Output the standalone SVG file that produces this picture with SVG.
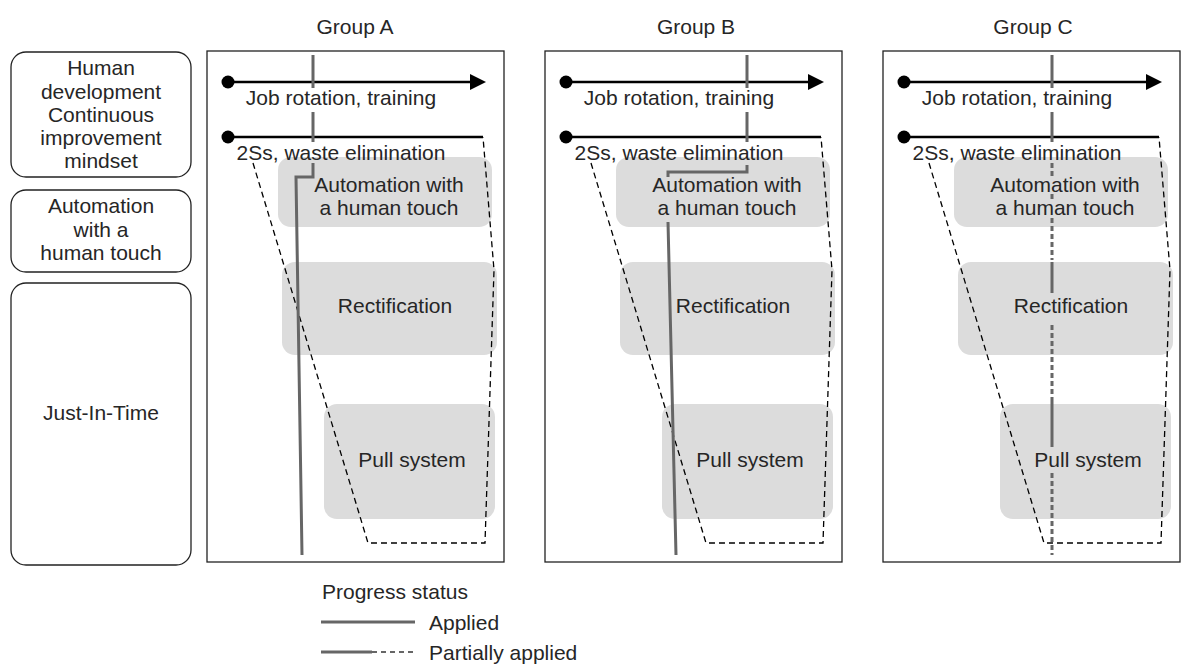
<svg xmlns="http://www.w3.org/2000/svg" width="1186" height="666" viewBox="0 0 1186 666">
<style>
text{font-family:"Liberation Sans",Arial,sans-serif;font-size:21px;fill:#262626}
.c{text-anchor:middle}
.frame{fill:none;stroke:#222;stroke-width:1.3}
.lbox{fill:#fff;stroke:#222;stroke-width:1.3}
.gbox{fill:#dcdcdc}
.axis{stroke:#000;stroke-width:2.5;fill:none}
.trap{fill:none;stroke:#000;stroke-width:1.3;stroke-dasharray:6 4}
.prog{fill:none;stroke:#666;stroke-width:3}
.progd{fill:none;stroke:#666;stroke-width:3;stroke-dasharray:5 3}
</style>
<defs>
<g id="panel">
<rect class="gbox" x="278" y="157" width="214" height="70" rx="13"/>
<rect class="gbox" x="282" y="262" width="215" height="93" rx="13"/>
<rect class="gbox" x="324" y="404" width="171" height="115" rx="13"/>
<line class="axis" x1="228" y1="82" x2="472" y2="82"/>
<polygon points="470,74 486,82 470,90" fill="#000"/>
<circle cx="228" cy="82" r="6.5" fill="#000"/>
<line class="axis" x1="228" y1="137" x2="483" y2="137"/>
<circle cx="228" cy="137" r="6.5" fill="#000"/>
<text class="c" x="341" y="105">Job rotation, training</text>
<text class="c" x="341" y="160">2Ss, waste elimination</text>
<text class="c" x="389" y="192">Automation with</text>
<text class="c" x="389" y="215">a human touch</text>
<text class="c" x="395" y="313">Rectification</text>
<text class="c" x="412" y="467">Pull system</text>
<polyline class="trap" points="253,163 368,543 485,543 494,270 483,137"/>
</g>
</defs>
<g id="titles">
<text class="c" x="355" y="34">Group A</text>
<text class="c" x="696" y="34">Group B</text>
<text class="c" x="1033" y="34">Group C</text>
</g>
<g id="left-labels">
<g id="lbl-human">
<rect class="lbox" x="11" y="52" width="180" height="125" rx="15"/>
<text class="c" x="101" y="75">Human</text>
<text class="c" x="101" y="99">development</text>
<text class="c" x="101" y="122">Continuous</text>
<text class="c" x="101" y="145">improvement</text>
<text class="c" x="101" y="168">mindset</text>
</g>
<g id="lbl-auto">
<rect class="lbox" x="11" y="190" width="180" height="82" rx="15"/>
<text class="c" x="101" y="213">Automation</text>
<text class="c" x="101" y="237">with a</text>
<text class="c" x="101" y="260">human touch</text>
</g>
<g id="lbl-jit">
<rect class="lbox" x="11" y="283" width="180" height="282" rx="15"/>
<text class="c" x="101" y="420">Just-In-Time</text>
</g>
</g>
<g id="groupA">
<rect class="frame" x="207" y="51" width="297" height="511"/>
<use href="#panel"/>
</g>
<g id="groupB">
<rect class="frame" x="545" y="51" width="297" height="511"/>
<use href="#panel" transform="translate(338,0)"/>
</g>
<g id="groupC">
<rect class="frame" x="883" y="51" width="297" height="511"/>
<use href="#panel" transform="translate(676,0)"/>
</g>
<g id="connectors">
<path class="prog" d="M313,55V88M313,112V142M313,163V177H296L302,555"/>
<path class="prog" d="M747,55V88M747,112V142M747,165V172H668V177M668,222L676,555"/>
<path class="prog" d="M1052,55V88M1052,112V142M1052,262V293M1052,400V447"/>
<path class="progd" d="M1052,163V176M1052,194V200M1052,218V260M1052,325V400M1052,473V555"/>
</g>
<g id="legend">
<text x="322" y="599">Progress status</text>
<line class="prog" x1="321" y1="622" x2="415" y2="622"/>
<text x="429" y="630">Applied</text>
<line class="prog" x1="321" y1="652" x2="372" y2="652"/>
<line x1="372" y1="652" x2="415" y2="652" stroke="#666" stroke-width="2" stroke-dasharray="5 4"/>
<text x="429" y="660">Partially applied</text>
</g>
</svg>
